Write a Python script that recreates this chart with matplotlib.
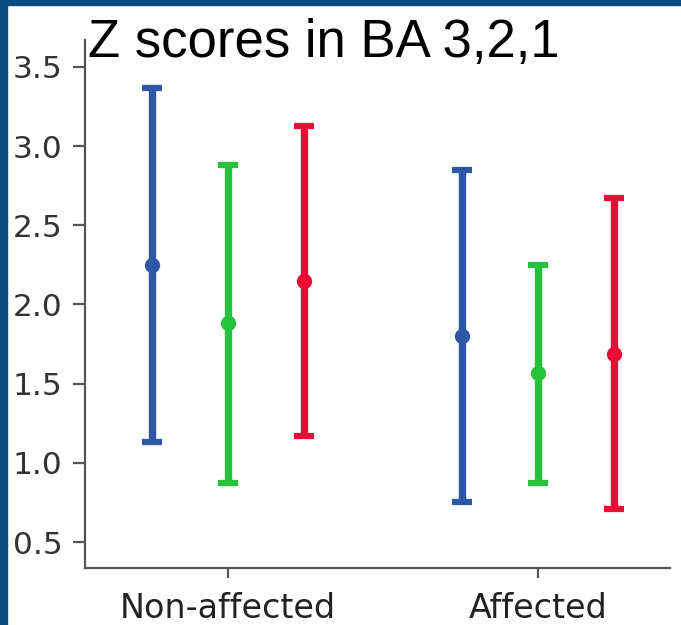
import matplotlib
matplotlib.use("Agg")
import matplotlib.pyplot as plt
from matplotlib.patches import Rectangle
import numpy as np

plt.rcParams['font.family'] = ['Liberation Sans', 'DejaVu Sans']

categories = ["Non-affected", "Affected"]
series_names = ["BA 3", "BA 2", "BA 1"]
colors = ["#2f57a8", "#27c23c", "#ee0a36"]
means = {"BA 3": [2.25, 1.80], "BA 2": [1.88, 1.57], "BA 1": [2.15, 1.69]}
lower = {"BA 3": [1.13, 0.75], "BA 2": [0.87, 0.87], "BA 1": [1.17, 0.71]}
upper = {"BA 3": [3.37, 2.85], "BA 2": [2.88, 2.25], "BA 1": [3.13, 2.67]}
yticks = [0.5, 1.0, 1.5, 2.0, 2.5, 3.0, 3.5]
title = "Z scores in BA 3,2,1"

fig = plt.figure(figsize=(6.81, 6.25), dpi=100)
fig.patch.set_facecolor("white")
ax = fig.add_axes([85/681, 57/625, 585/681, 528/625])

x = np.arange(len(categories))
offsets = [-0.245, 0.0, 0.245]
for name, col, off in zip(series_names, colors, offsets):
    m = np.array(means[name]); lo = np.array(lower[name]); hi = np.array(upper[name])
    ax.errorbar(x + off, m, yerr=[m - lo, hi - m], fmt='o', color=col,
                ecolor=col, elinewidth=5.3, capsize=7.2, capthick=4.5,
                markersize=10, zorder=3)

ax.set_xlim(-0.461, 0.426 + 1)
ax.set_ylim(0.336, 3.67)
ax.set_yticks(yticks)
ax.set_yticklabels([f"{v:.1f}" for v in yticks])
ax.set_xticks(x)
ax.set_xticklabels(categories)
for s in ["top", "right"]:
    ax.spines[s].set_visible(False)
for s in ["left", "bottom"]:
    ax.spines[s].set_color("#555555")
    ax.spines[s].set_linewidth(1.6)
ax.tick_params(axis='y', length=9, width=1.6, color="#555555", labelsize=22.5,
               labelcolor="#333333", pad=7)
ax.tick_params(axis='x', length=7, width=1.6, color="#555555", labelsize=24,
               labelcolor="#222222", pad=10)
for lab in ax.get_xticklabels() + ax.get_yticklabels():
    lab.set_fontfamily(['DejaVu Sans'])

fig.text(88/681, 1 - 57/625, title, fontsize=38, color="black",
         ha="left", va="baseline")

frame_col = "#0b4a7e"
fig.patches.append(Rectangle((0, 0), 7/681, 1, transform=fig.transFigure,
                             color=frame_col, zorder=10))
fig.patches.append(Rectangle((0, 1 - 5/625), 1, 5/625, transform=fig.transFigure,
                             color=frame_col, zorder=10))

fig.savefig("out.png", dpi=100)
